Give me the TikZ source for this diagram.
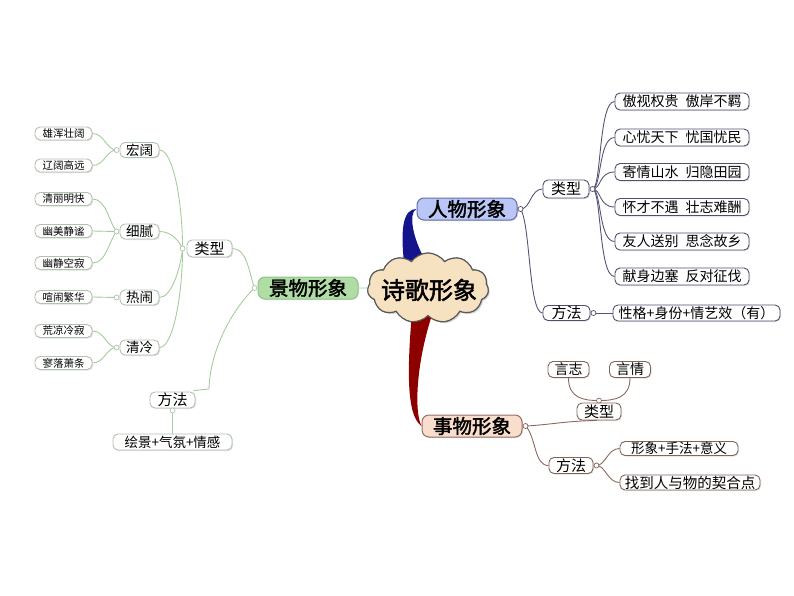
\documentclass[tikz,border=0pt]{standalone}
\usepackage{fontspec}
\newfontfamily\cjk{Noto Sans CJK SC}
\newfontfamily\cjkb[FakeBold=2]{Noto Sans CJK SC}
\usetikzlibrary{shapes.symbols,shadows,calc}
\definecolor{lgline}{RGB}{165,205,155}
\definecolor{lgbord}{RGB}{175,195,175}
\definecolor{rline}{RGB}{85,85,120}
\definecolor{rbord}{RGB}{80,80,110}
\definecolor{bline}{RGB}{140,105,95}
\definecolor{bbord}{RGB}{130,100,90}
\definecolor{gfill}{RGB}{176,220,166}
\definecolor{gbord}{RGB}{145,195,140}
\definecolor{pfill}{RGB}{186,198,245}
\definecolor{pbord}{RGB}{100,110,170}
\definecolor{sfill}{RGB}{249,222,205}
\definecolor{sbord}{RGB}{150,110,95}
\definecolor{cfill}{RGB}{246,225,192}
\definecolor{navyrib}{RGB}{20,20,140}
\definecolor{redrib}{RGB}{140,0,0}
\tikzset{
  fsz/.style={font=\cjk\fontsize{#1}{#1}\selectfont},
  bx/.style={rounded corners=5pt, fill=white, inner sep=0.5pt, line width=0.9pt,
             drop shadow={shadow xshift=1pt, shadow yshift=-1pt, opacity=0.25}},
  lnode/.style={bx, draw=lgbord},
  rnode/.style={bx, draw=rbord},
  bnode/.style={bx, draw=bbord},
  lleaf/.style={lnode, fsz=10.5, minimum width=57pt, minimum height=13pt},
  lmid/.style={lnode, fsz=13.5, minimum width=39pt, minimum height=15pt},
  rleaf/.style={rnode, fsz=14, minimum width=134pt, minimum height=17pt},
  mainbox/.style={rounded corners=7pt, inner sep=0pt, line width=1pt, minimum width=100pt,
             minimum height=22pt, font=\cjkb\fontsize{19.5}{19.5}\selectfont,
             drop shadow={shadow xshift=1pt, shadow yshift=-1pt, opacity=0.25}},
  jc/.style={circle, draw=#1, fill=white, inner sep=0pt, minimum size=5pt, line width=0.7pt},
  gl/.style={draw=lgline, line width=0.9pt},
  rl/.style={draw=rline, line width=0.9pt},
  bl/.style={draw=bline, line width=0.9pt},
}
\begin{document}
\begin{tikzpicture}[x=1pt,y=-1pt]
\useasboundingbox (0,0) rectangle (794,596);

% ---------- central cloud ----------
\node[cloud, cloud puffs=11, cloud puff arc=110, cloud ignores aspect, draw=black!65, fill=cfill,
      line width=1.1pt, minimum width=121pt, minimum height=70pt, inner sep=0pt,
      drop shadow={shadow xshift=1.5pt, shadow yshift=-1.5pt, opacity=0.35}] (cl) at (428,288) {};

% ---------- main nodes ----------
\node[mainbox, draw=gbord, fill=gfill] (jw) at (308,288) {景物形象};
\node[mainbox, draw=pbord, fill=pfill] (rw) at (467,209) {人物形象};
\node[mainbox, draw=sbord, fill=sfill] (sw) at (472,426) {事物形象};

% ---------- ribbons ----------
\fill[navyrib] (rw.west) .. controls (404,209) and (400,226) .. (404,262)
   -- (424,258) .. controls (413,238) and (408,213) .. (rw.west) -- cycle;
\fill[redrib] (412,312) .. controls (408,360) and (405,415) .. (sw.west)
   .. controls (414,412) and (416,362) .. (433,312) -- cycle;
% redraw cloud on top of ribbons
\node[cloud, cloud puffs=11, cloud puff arc=110, cloud ignores aspect, draw=black!65, fill=cfill,
      line width=1.1pt, minimum width=121pt, minimum height=70pt, inner sep=0pt] (cl2) at (cl) {};
\node[font=\cjkb\fontsize{24}{24}\selectfont, inner sep=0pt] (clt) at (429,290) {诗歌形象};

\draw[gl] (jw.east) -- (cl.west);

% ---------- left branch ----------
\node[lleaf] (a1) at (63.5,133.5) {雄浑壮阔};
\node[lleaf] (a2) at (63.5,165.5) {辽阔高远};
\node[lleaf] (a3) at (63.5,199) {清丽明快};
\node[lleaf] (a4) at (63.5,231) {幽美静谧};
\node[lleaf] (a5) at (63.5,263) {幽静空寂};
\node[lleaf] (a6) at (63.5,297) {喧闹繁华};
\node[lleaf] (a7) at (63.5,331) {荒凉冷寂};
\node[lleaf] (a8) at (63.5,363) {寥落萧条};

\node[lmid] (hk) at (139.5,150) {宏阔};
\node[lmid] (xn) at (139.5,231.5) {细腻};
\node[lmid] (rn) at (139.5,297.5) {热闹};
\node[lmid] (ql) at (139.5,347.5) {清冷};

\node[lnode, fsz=15, minimum width=45pt, minimum height=17pt] (llx) at (209.5,248.5) {类型};
\node[lnode, fsz=15, minimum width=45pt, minimum height=16pt] (lff) at (172.5,400) {方法};
\node[lnode, fsz=13.5, minimum width=119pt, minimum height=16pt] (hj) at (172.5,442) {绘景+气氛+情感};

\coordinate (jhk) at ($(hk.west)+(-3,0)$);
\coordinate (jxn) at ($(xn.west)+(-3,0)$);
\coordinate (jrn) at ($(rn.west)+(-3,0)$);
\coordinate (jql) at ($(ql.west)+(-3,0)$);
\coordinate (jlx) at ($(llx.west)+(-4,0)$);
\coordinate (jjw) at ($(jw.west)+(-3,0)$);
\coordinate (jff) at ($(lff.south)+(0,2)$);

\draw[gl] (a1.east) .. controls +(12,0) and +(-10,0) .. (jhk);
\draw[gl] (a2.east) .. controls +(12,0) and +(-10,0) .. (jhk);
\draw[gl] (a3.east) .. controls +(14,0) and +(-8,-10) .. (jxn);
\draw[gl] (a4.east) -- (jxn);
\draw[gl] (a5.east) .. controls +(14,0) and +(-8,10) .. (jxn);
\draw[gl] (a6.east) -- (jrn);
\draw[gl] (a7.east) .. controls +(12,0) and +(-10,0) .. (jql);
\draw[gl] (a8.east) .. controls +(12,0) and +(-10,0) .. (jql);

\draw[gl] (hk.east) .. controls +(14,0) and +(0,-45) .. (jlx);
\draw[gl] (xn.east) .. controls +(12,0) and +(-4,-8) .. (jlx);
\draw[gl] (rn.east) .. controls +(12,0) and +(-2,20) .. (jlx);
\draw[gl] (ql.east) .. controls +(14,0) and +(0,45) .. (jlx);

\draw[gl] (llx.east) .. controls +(14,0) and +(-6,-18) .. (jjw);
\draw[gl] (jjw) .. controls (230,312) and (210,352) .. (209,389) -- ($(lff.north east)+(-2,-1)$);
\draw[gl] (jff) -- (hj.north);

\foreach \j in {jhk,jxn,jrn,jql,jlx,jjw,jff} \node[jc=lgbord] at (\j) {};

% ---------- right upper branch ----------
\node[rnode, fsz=15, minimum width=46pt, minimum height=18pt] (rlx) at (566,189) {类型};
\node[rnode, fsz=15, minimum width=47pt, minimum height=15pt] (rff) at (566.5,313) {方法};
\node[rleaf] (b1) at (682,101.5) {傲视权贵\hspace{0.5em}傲岸不羁};
\node[rleaf] (b2) at (682,137.5) {心忧天下\hspace{0.5em}忧国忧民};
\node[rleaf] (b3) at (682,172) {寄情山水\hspace{0.5em}归隐田园};
\node[rleaf] (b4) at (682,207) {怀才不遇\hspace{0.5em}壮志难酬};
\node[rleaf] (b5) at (682,241.5) {友人送别\hspace{0.5em}思念故乡};
\node[rleaf] (b6) at (682,276.5) {献身边塞\hspace{0.5em}反对征伐};
\node[rnode, fsz=14, minimum width=167pt, minimum height=16pt] (b7) at (696.5,313) {性格+身份+情艺效（有）};

\coordinate (jrw) at ($(rw.east)+(3,0)$);
\coordinate (jrlx) at ($(rlx.east)+(3,0)$);
\coordinate (jrff) at ($(rff.east)+(3,0)$);

\draw[rl] (jrw) .. controls +(10,0) and +(-12,0) .. (rlx.west);
\draw[rl] (jrw) .. controls +(10,15) and +(-14,0) .. (rff.west);
\foreach \b in {b1,b2,b3,b4,b5,b6}
  \draw[rl] (jrlx) .. controls +(9,0) and +(-16,0) .. (\b.west);
\draw[rl] (jrff) -- (b7.west);

\foreach \j in {jrw,jrlx,jrff} \node[jc=rbord] at (\j) {};

% ---------- right lower branch ----------
\node[bnode, fsz=14, minimum width=41pt, minimum height=16pt] (yz) at (568.5,369.5) {言志};
\node[bnode, fsz=14, minimum width=41pt, minimum height=16pt] (yq) at (630,369.5) {言情};
\node[bnode, fsz=15, minimum width=44pt, minimum height=17pt] (xlx) at (599,411.5) {类型};
\node[bnode, fsz=15, minimum width=44pt, minimum height=16pt] (xff) at (571,465.5) {方法};
\node[bnode, fsz=13.5, minimum width=118pt, minimum height=14pt] (c1) at (679,448.5) {形象+手法+意义};
\node[bnode, fsz=14.5, minimum width=140pt, minimum height=15pt] (c2) at (690,482.5) {找到人与物的契合点};

\coordinate (jsw) at ($(sw.east)+(3,0)$);
\coordinate (jxlx) at ($(xlx.north)+(0,-2)$);
\coordinate (jxff) at ($(xff.east)+(3,0)$);

\draw[bl] (jsw) .. controls (548,425) and (565,421) .. ($(xlx.south)+(-2,0)$);
\draw[bl] (jsw) .. controls (536,436) and (534,466) .. (xff.west);
\draw[bl] (yz.south) .. controls +(0,20) and +(-16,0) .. (jxlx);
\draw[bl] (yq.south) .. controls +(0,20) and +(16,0) .. (jxlx);
\draw[bl] (jxff) .. controls +(9,0) and +(-12,0) .. (c1.west);
\draw[bl] (jxff) .. controls +(9,0) and +(-12,0) .. (c2.west);

\foreach \j in {jsw,jxlx,jxff} \node[jc=bbord] at (\j) {};
\end{tikzpicture}
\end{document}
